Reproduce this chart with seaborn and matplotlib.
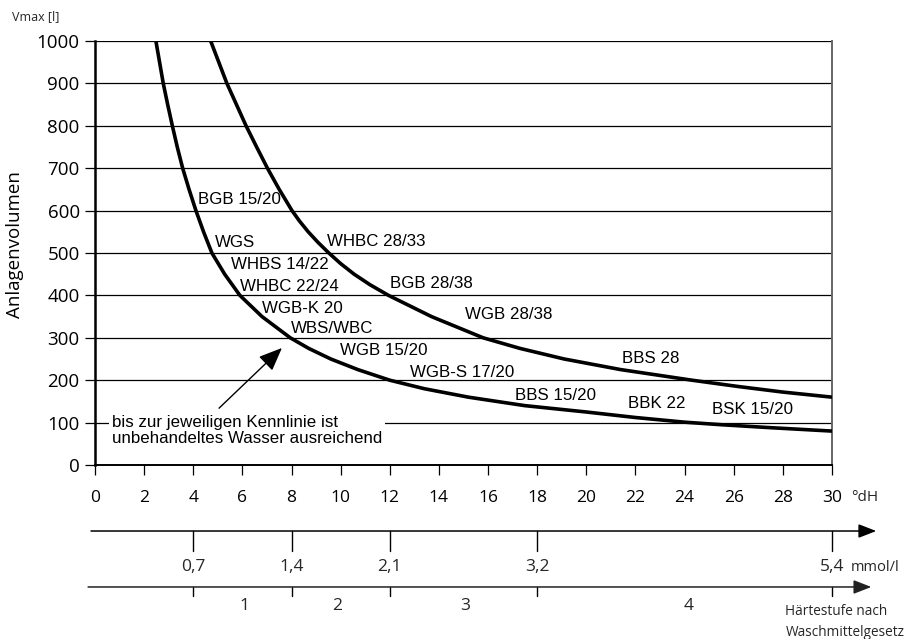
import matplotlib
matplotlib.use("Agg")
import matplotlib.pyplot as plt
import matplotlib.transforms as mtransforms
import seaborn as sns
import pandas as pd

# ---- data ----
left_x = [2.48, 2.63, 2.78, 2.96, 3.15, 3.35, 3.57, 3.83, 4.11, 4.42, 4.76, 5.28,
          5.9, 6.8, 7.95, 8.7, 9.6, 10.7, 12.0, 13.4, 15.2, 17.5, 20.0, 22.0,
          24.0, 25.5, 27.5, 30.0]
left_v = [1000, 950, 900, 850, 800, 750, 700, 650, 600, 550, 500, 450,
          400, 350, 300, 275, 250, 225, 200, 180, 160, 140, 125, 112,
          101, 95, 88, 80]
right_x = [4.71, 5.04, 5.37, 5.76, 6.15, 6.58, 7.02, 7.5, 8.02, 8.33, 8.68, 9.08,
           9.52, 10.0, 10.55, 11.2, 11.95, 13.7, 15.8, 17.3, 19.1, 21.4, 24.3,
           26.2, 28.0, 30.0]
right_v = [1000, 950, 900, 850, 800, 750, 700, 650, 600, 575, 550, 525,
           500, 475, 450, 425, 400, 350, 300, 275, 250, 225, 200,
           185, 172, 160]

label_texts = ["BGB 15/20", "WGS", "WHBS 14/22", "WHBC 22/24", "WGB-K 20", "WBS/WBC",
               "WGB 15/20", "WHBC 28/33", "BGB 28/38", "WGB 28/38", "WGB-S 17/20",
               "BBS 28", "BBS 15/20", "BBK 22", "BSK 15/20"]
label_x = [4.19, 4.88, 5.54, 5.90, 6.80, 7.98, 9.97, 9.44, 12.0, 15.06, 12.82,
           21.45, 17.09, 21.70, 25.11]
label_y = [627, 524, 472, 422, 370, 323, 269, 528, 429, 354, 217, 252, 165, 146, 130]

dh_ticks = list(range(0, 31, 2))
v_ticks = list(range(0, 1001, 100))
mmol_pos = [4, 8, 12, 18, 30]
mmol_labels = ["0,7", "1,4", "2,1", "3,2", "5,4"]
stufe_ticks = [4, 8, 12, 18, 30]
stufe_labels = ["1", "2", "3", "4"]
stufe_label_x = [6.1, 9.85, 15.06, 24.18]

# ---- figure ----
sns.set_theme(style="white")
plt.rcParams['font.family'] = ['Open Sans', 'DejaVu Sans']
ARIAL = ["Liberation Sans", "DejaVu Sans"]

fig = plt.figure(figsize=(9.14, 6.39), dpi=100)
ax = fig.add_axes([0.1039, 0.2723, 0.8064, 0.6635])

df = pd.concat([
    pd.DataFrame({"dH": left_x, "V": left_v, "curve": "left"}),
    pd.DataFrame({"dH": right_x, "V": right_v, "curve": "right"}),
])
sns.lineplot(data=df, x="dH", y="V", units="curve", estimator=None, sort=False,
             color="black", linewidth=2.6, ax=ax, legend=False, zorder=5)
for ln in ax.lines:
    ln.set_solid_joinstyle("round")
    ln.set_solid_capstyle("butt")

ax.set_xlim(0, 30)
ax.set_ylim(0, 1000)
ax.set_xticks(dh_ticks)
ax.set_yticks(v_ticks)
ax.set_xlabel("")
ax.set_ylabel("Anlagenvolumen", fontsize=13.5, color="black")
ax.yaxis.set_label_coords(-0.096, 0.521)
ax.yaxis.grid(True, color="black", linewidth=0.9)
ax.xaxis.grid(False)
ax.tick_params(axis="y", direction="out", length=7, width=0.9, color="black",
               labelsize=13.5, pad=4, left=True, labelcolor="black")
ax.tick_params(axis="x", direction="out", length=7, width=0.9, color="black",
               labelsize=12.5, pad=11, bottom=True, labelcolor="black")
ax.spines["left"].set_color("black")
ax.spines["left"].set_linewidth(1.8)
ax.spines["bottom"].set_color("black")
ax.spines["bottom"].set_linewidth(1.4)
ax.spines["top"].set_visible(False)
ax.spines["right"].set_color("#666666")
ax.spines["right"].set_linewidth(1.4)

# curve labels
for t, x, y in zip(label_texts, label_x, label_y):
    ax.text(x, y, t, fontsize=12.2, family=ARIAL, ha="left", va="center",
            color="black", zorder=6)

# annotation text with arrow
ax.text(0.7, 100, "bis zur jeweiligen Kennlinie ist\nunbehandeltes Wasser ausreichend",
        fontsize=12.2, family=ARIAL, ha="left", va="top", linespacing=1.15,
        color="black", zorder=6,
        bbox=dict(facecolor="white", edgecolor="none", pad=2),
        transform=mtransforms.offset_copy(ax.transData, fig=fig, x=0, y=8, units="dots"))
ax.annotate("", xy=(7.61, 276), xytext=(5.05, 134),
            arrowprops=dict(arrowstyle="-|>,head_length=1.2,head_width=0.5",
                            color="black", lw=1.0, shrinkA=0, shrinkB=0), zorder=6)

# top label and unit labels
fig.text(12 / 914, 1 - 17 / 639, "Vmax [l]", fontsize=9, ha="left", va="center")
unit_x = (851 - 95) / 737
ax.text(unit_x, -0.0755, "°dH", transform=ax.transAxes, fontsize=11, ha="left",
        va="center")

# ---- secondary scales ----
trans = mtransforms.blended_transform_factory(ax.transData, ax.transAxes)
y1 = -0.1557
y2 = -0.2877
ax.annotate("", xy=(31.8, y1), xytext=(-0.16, y1), xycoords=trans, textcoords=trans,
            arrowprops=dict(arrowstyle="-|>,head_length=0.9,head_width=0.35",
                            color="black", lw=1.1, shrinkA=0, shrinkB=0),
            annotation_clip=False)
for p, lab in zip(mmol_pos, mmol_labels):
    ax.plot([p, p], [y1, y1 - 0.047], transform=trans, color="black", lw=1.0,
            clip_on=False)
    ax.text(p, -0.2406, lab, transform=trans, fontsize=12.5, ha="center", va="center")
ax.text(unit_x, -0.2406, "mmol/l", transform=ax.transAxes, fontsize=10.5,
        ha="left", va="center")

ax.annotate("", xy=(31.6, y2), xytext=(-0.28, y2), xycoords=trans, textcoords=trans,
            arrowprops=dict(arrowstyle="-|>,head_length=0.9,head_width=0.35",
                            color="#222222", lw=1.1, shrinkA=0, shrinkB=0),
            annotation_clip=False)
for p in stufe_ticks:
    ax.plot([p, p], [y2, y2 - 0.021], transform=trans, color="black", lw=1.0,
            clip_on=False)
for x, lab in zip(stufe_label_x, stufe_labels):
    ax.text(x, -0.3325, lab, transform=trans, fontsize=12.5, ha="center", va="center")
ax.text(28.1, -0.3467, "Härtestufe nach", transform=trans, fontsize=9.8,
        ha="left", va="center")
ax.text(28.1, -0.394, "Waschmittelgesetz", transform=trans, fontsize=9.8,
        ha="left", va="center")

fig.savefig("out.png", dpi=100, facecolor="white")
